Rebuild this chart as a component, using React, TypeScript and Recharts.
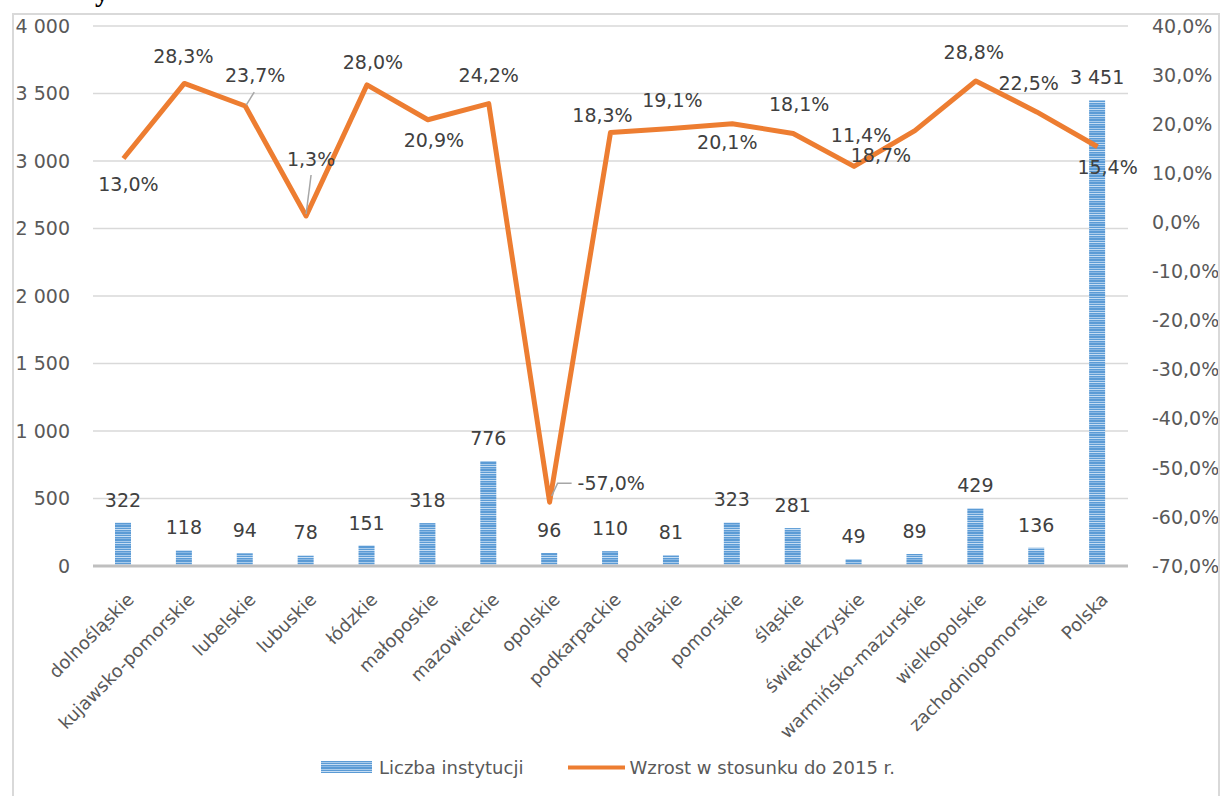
import React from "react";
import {
  ComposedChart,
  Bar,
  Line,
  XAxis,
  YAxis,
  CartesianGrid,
  Legend,
  LabelList,
} from "recharts";

const categories = [
  "dolnośląskie",
  "kujawsko-pomorskie",
  "lubelskie",
  "lubuskie",
  "łódzkie",
  "małoposkie",
  "mazowieckie",
  "opolskie",
  "podkarpackie",
  "podlaskie",
  "pomorskie",
  "śląskie",
  "świętokrzyskie",
  "warmińsko-mazurskie",
  "wielkopolskie",
  "zachodniopomorskie",
  "Polska",
];

const institutionCounts = [322, 118, 94, 78, 151, 318, 776, 96, 110, 81, 323, 281, 49, 89, 429, 136, 3451];

const growthPct = [13.0, 28.3, 23.7, 1.3, 28.0, 20.9, 24.2, -57.0, 18.3, 19.1, 20.1, 18.1, 11.4, 18.7, 28.8, 22.5, 15.4];

const leftTicks = [0, 500, 1000, 1500, 2000, 2500, 3000, 3500, 4000];
const rightTicks = [-70, -60, -50, -40, -30, -20, -10, 0, 10, 20, 30, 40];

// where each growth label sits relative to its point (Excel placed them by hand)
const lineLabelShift: [number, number][] = [
  [5, 25], [-1, -27], [10, -31], [5, -57], [6, -23], [6, 20], [0, -29], [28, -19],
  [-8, -18], [1, -29], [-5, 18], [6, -30], [7, -31], [-34, 24], [-2, -29], [-8, -29], [10, 20],
];

const data = categories.map((name, i) => ({
  name,
  count: institutionCounts[i],
  growth: growthPct[i],
}));

const FONT = "'DejaVu Sans', sans-serif";
const BLUE = "#5b9bd5";
const ORANGE = "#ed7d31";

const fmtThousands = (v: number) => String(v).replace(/\B(?=(\d{3})+(?!\d))/g, " ");
// non-breaking space so the label never wraps inside the narrow bar
const fmtBarLabel = (v: number) => String(v).replace(/\B(?=(\d{3})+(?!\d))/g, "\u00a0");
const fmtPct = (v: number) => v.toFixed(1).replace(".", ",") + "%";

const StripePattern = ({ id }: { id: string }) => (
  <pattern id={id} width="8" height="7" patternUnits="userSpaceOnUse">
    <rect width="8" height="7" fill={BLUE} />
    <rect y="1" width="8" height="1" fill="#a9cbeb" />
    <rect y="3" width="8" height="1" fill="#c6ddf3" />
    <rect y="5" width="8" height="1" fill="#8ab8e4" />
  </pattern>
);

const CategoryTick = (props: any) => {
  const { x, y, payload } = props;
  const tx = x + 7;
  const ty = y + 30;
  return (
    <text
      x={tx}
      y={ty}
      transform={`rotate(-45, ${tx}, ${ty})`}
      textAnchor="end"
      dominantBaseline="central"
      fontSize={18}
      fontFamily={FONT}
      fill="#595959"
    >
      {payload.value}
    </text>
  );
};

const renderBarLabel = (props: any) => {
  const { x, y, width, value } = props;
  return (
    <text
      x={x + width / 2}
      y={y - 16}
      textAnchor="middle"
      fontSize={19}
      fontFamily={FONT}
      fill="#404040"
    >
      {fmtBarLabel(Number(value))}
    </text>
  );
};

const renderGrowthLabel = (props: any) => {
  const { x, y, index, value } = props;
  const [dx, dy] = lineLabelShift[index] || [0, -25];
  const leftAligned = index === 7;
  let leader = null;
  if (index === 2) {
    leader = <path d={`M${x + 1},${y - 1} L${x + 9},${y - 14}`} stroke="#a6a6a6" strokeWidth={1.5} fill="none" />;
  } else if (index === 3) {
    leader = <path d={`M${x},${y - 2} L${x + 5},${y - 41}`} stroke="#a6a6a6" strokeWidth={1.5} fill="none" />;
  } else if (index === 7) {
    leader = (
      <path
        d={`M${x + 2},${y - 6} L${x + 8},${y - 19} L${x + 22},${y - 19}`}
        stroke="#a6a6a6"
        strokeWidth={1.5}
        fill="none"
      />
    );
  }
  return (
    <g>
      {leader}
      <text
        x={x + dx}
        y={y + dy}
        textAnchor={leftAligned ? "start" : "middle"}
        dominantBaseline="central"
        fontSize={19}
        fontFamily={FONT}
        fill="#404040"
      >
        {fmtPct(value)}
      </text>
    </g>
  );
};

const ChartLegend = () => (
  <div
    style={{
      display: "flex",
      alignItems: "center",
      height: 24,
      paddingLeft: 307,
      fontFamily: FONT,
      fontSize: 18,
      color: "#595959",
    }}
  >
    <svg width={51} height={12} style={{ display: "block" }}>
      <defs>
        <StripePattern id="legendStripes" />
      </defs>
      <rect width={51} height={12} fill="url(#legendStripes)" />
    </svg>
    <span style={{ marginLeft: 7, whiteSpace: "nowrap" }}>Liczba instytucji</span>
    <svg width={57} height={5} style={{ display: "block", marginLeft: 45 }}>
      <line x1={0} y1={2.5} x2={57} y2={2.5} stroke={ORANGE} strokeWidth={4} />
    </svg>
    <span style={{ marginLeft: 4, whiteSpace: "nowrap" }}>Wzrost w stosunku do 2015 r.</span>
  </div>
);

export default function App() {
  return (
    <div>
      <div
        style={{
          position: "absolute",
          left: 95,
          top: -24,
          fontFamily: "'Liberation Serif', serif",
          fontWeight: "bold",
          fontSize: 28,
        }}
      >
        y
      </div>
      <div
        style={{
          position: "absolute",
          left: 12,
          top: 13,
          width: 1208,
          height: 783,
          boxSizing: "border-box",
          borderTop: "2px solid #d9d9d9",
          borderLeft: "2px solid #d9d9d9",
          borderRight: "2px solid #d9d9d9",
          background: "#fff",
        }}
      >
        <ComposedChart
          width={1204}
          height={781}
          data={data}
          margin={{ top: 11, right: 0, left: 0, bottom: 17 }}
        >
          <defs>
            <StripePattern id="barStripes" />
          </defs>
          <CartesianGrid yAxisId="left" vertical={false} stroke="#d9d9d9" strokeWidth={1.5} />
          <XAxis
            dataKey="name"
            interval={0}
            height={189}
            tickLine={false}
            tickSize={0}
            tickMargin={0}
            axisLine={{ stroke: "#bfbfbf", strokeWidth: 3 }}
            tick={<CategoryTick />}
          />
          <YAxis
            yAxisId="left"
            width={79}
            domain={[0, 4000]}
            ticks={leftTicks}
            interval={0}
            axisLine={false}
            tickLine={false}
            tickSize={0}
            tickMargin={23}
            tickFormatter={fmtThousands}
            tick={{ fontSize: 19, fontFamily: FONT, fill: "#595959" }}
          />
          <YAxis
            yAxisId="right"
            orientation="right"
            width={90}
            domain={[-70, 40]}
            ticks={rightTicks}
            interval={0}
            axisLine={false}
            tickLine={false}
            tickSize={0}
            tickMargin={24}
            tickFormatter={fmtPct}
            tick={{ fontSize: 19, fontFamily: FONT, fill: "#595959", textAnchor: "start" }}
          />
          <Legend verticalAlign="bottom" content={<ChartLegend />} />
          <Bar
            yAxisId="left"
            dataKey="count"
            name="Liczba instytucji"
            fill="url(#barStripes)"
            barSize={16}
            isAnimationActive={false}
          >
            <LabelList dataKey="count" content={renderBarLabel} />
          </Bar>
          <Line
            yAxisId="right"
            type="linear"
            dataKey="growth"
            name="Wzrost w stosunku do 2015 r."
            stroke={ORANGE}
            strokeWidth={5}
            strokeLinejoin="round"
            dot={false}
            activeDot={false}
            isAnimationActive={false}
          >
            <LabelList dataKey="growth" content={renderGrowthLabel} />
          </Line>
        </ComposedChart>
      </div>
    </div>
  );
}
